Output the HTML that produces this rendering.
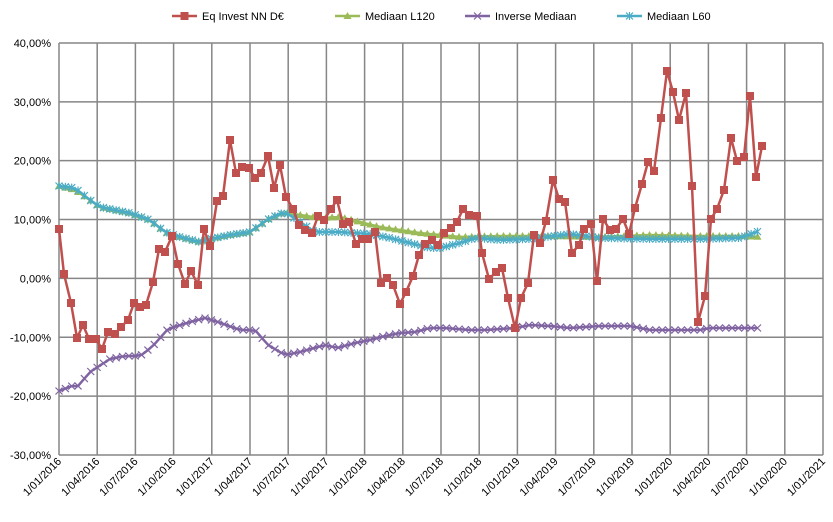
<!DOCTYPE html>
<html><head><meta charset="utf-8"><style>
body{margin:0;background:#fff;}
svg{font-family:"Liberation Sans",sans-serif;}
</style></head><body>
<svg id="s" width="833" height="517" xmlns="http://www.w3.org/2000/svg"></svg>
<script>
const s=document.getElementById('s');const NS="http://www.w3.org/2000/svg";
function el(t,a,txt){const e=document.createElementNS(NS,t);for(const k in a)e.setAttribute(k,a[k]);if(txt!==undefined)e.textContent=txt;s.appendChild(e);return e;}
const X0=59,QX=38.2,Y0=278.4,U=5.886;
// grid
for(let i=0;i<=20;i++){const x=X0+i*QX;el('line',{x1:x,y1:43,x2:x,y2:455,stroke:'#868686','stroke-width':1.5});}
for(let v=40;v>=-30;v-=10){const y=Y0-v*U;el('line',{x1:X0,y1:y,x2:X0+20*QX,y2:y,stroke:'#868686','stroke-width':1.5});
el('text',{x:51,y:y+4,'text-anchor':'end','font-size':11,fill:'#000'},v.toFixed(2).replace('.',',')+'%');}
const months=['01','04','07','10'];
for(let i=0;i<=20;i++){const x=X0+i*QX+3;const y=462;const lab='1/'+months[i%4]+'/'+(2016+Math.floor(i/4));
el('text',{x:x,y:y,'text-anchor':'end','font-size':11,transform:`rotate(-45 ${x} ${y})`},lab);}
function interp(pts){const out=[];for(let x=59;x<=762.5;x+=6.35){let y=pts[0][1];for(let i=0;i<pts.length-1;i++){if(x>=pts[i][0]&&x<=pts[i+1][0]){const t=(x-pts[i][0])/(pts[i+1][0]-pts[i][0]);y=pts[i][1]+t*(pts[i+1][1]-pts[i][1]);break;}if(x>pts[pts.length-1][0])y=pts[pts.length-1][1];}out.push([x,y]);}return out;}
const green=interp([[59,186],[75,190],[90,200],[100,207],[130,213],[150,220],[165,232],[180,237],[200,242],[210,239],[230,235],[250,232],[270,218],[285,212],[300,215],[320,218],[340,217],[360,222],[380,227],[400,230],[420,233],[440,235],[460,237],[500,236],[550,236],[600,237],[650,235],[700,236],[740,236],[762,237]]);
const cyan=interp([[59,186],[75,188],[90,200],[100,207],[130,213],[150,220],[165,232],[180,237],[200,242],[210,239],[230,235],[250,232],[270,218],[285,212],[300,222],[315,232],[340,232],[370,234],[390,238],[410,243],[430,248],[440,248],[460,243],[475,238],[500,240],[530,239],[570,234],[600,238],[650,239],[700,239],[740,238],[762,230]]);
const purple=interp([[59,391],[72,386],[78,386],[90,372],[110,359],[125,356],[140,356],[152,347],[168,329],[190,322],[205,318],[218,322],[240,330],[255,330],[268,345],[285,355],[300,352],[325,345],[337,348],[355,343],[370,340],[385,336],[400,333],[415,332],[430,328],[445,328],[470,330],[485,330],[515,328],[530,325],[550,326],[570,328],[600,326],[630,326],[650,330],[700,330],[710,328],[762,328]]);
const red=[[59,229],[64,274],[71,303],[77,338],[83,325],[89,339],[96,339],[102,349],[108,332],[115,334],[121,327],[128,320],[134,303],[140,307],[146,305],[153,282],[159,249],[165,252],[172,236],[178,264],[185,284],[191,271],[198,285],[204,229],[210,246],[217,201],[223,196],[230,140],[236,173],[242,167],[249,168],[255,178],[261,173],[268,156],[274,188],[280,165],[286,197],[293,209],[299,225],[305,230],[312,233],[318,216],[324,220],[331,209],[337,200],[343,224],[349,222],[356,244],[362,239],[368,239],[375,232],[381,283],[387,278],[393,285],[400,304],[406,292],[413,276],[419,255],[425,244],[432,240],[438,245],[444,233],[451,228],[457,222],[463,209],[469,215],[477,216],[482,253],[489,279],[496,272],[502,268],[508,298],[515,328],[521,298],[528,283],[534,235],[540,243],[546,221],[553,180],[559,199],[565,202],[572,253],[579,245],[584,229],[591,224],[597,281],[603,219],[610,230],[616,229],[623,219],[629,234],[635,208],[642,184],[648,162],[654,171],[661,118],[667,71],[673,92],[679,120],[686,93],[692,186],[698,322],[705,296],[711,219],[717,209],[724,190],[731,138],[737,161],[744,157],[750,96],[756,177],[762,146]];
function line(p,c){el('polyline',{points:p.map(q=>q.join(',')).join(' '),fill:'none',stroke:c,'stroke-width':2.5,'stroke-linejoin':'round'});}
function tri(x,y,c){el('polygon',{points:`${x},${y-4} ${x-4},${y+3} ${x+4},${y+3}`,fill:c});}
function cross(x,y,c,r){el('path',{d:`M${x-r},${y-r}L${x+r},${y+r}M${x-r},${y+r}L${x+r},${y-r}`,stroke:c,'stroke-width':1.2});}
function star(x,y,c){cross(x,y,c,3.5);el('path',{d:`M${x},${y-4}V${y+4}`,stroke:c,'stroke-width':1.2});}
function sq(x,y,c){el('rect',{x:x-4,y:y-4,width:8,height:8,fill:c});}
line(purple,'#8064A2');purple.forEach(p=>cross(p[0],p[1],'#8064A2',3.5));
line(green,'#9BBB59');green.forEach(p=>tri(p[0],p[1],'#9BBB59'));
line(cyan,'#4BACC6');cyan.forEach(p=>star(p[0],p[1],'#4BACC6'));
line(red,'#C0504D');red.forEach(p=>sq(p[0],p[1],'#C0504D'));
// legend
const L=[[172,'#C0504D','Eq Invest NN D€',sq],[335,'#9BBB59','Mediaan L120',tri],[465,'#8064A2','Inverse Mediaan',(x,y,c)=>cross(x,y,c,3.5)],[617,'#4BACC6','Mediaan L60',star]];
L.forEach(([x,c,t,m])=>{el('line',{x1:x,y1:16,x2:x+25,y2:16,stroke:c,'stroke-width':2.5});m(x+12.5,16,c);el('text',{x:x+30,y:20,'font-size':11},t);});
</script>
</body></html>
